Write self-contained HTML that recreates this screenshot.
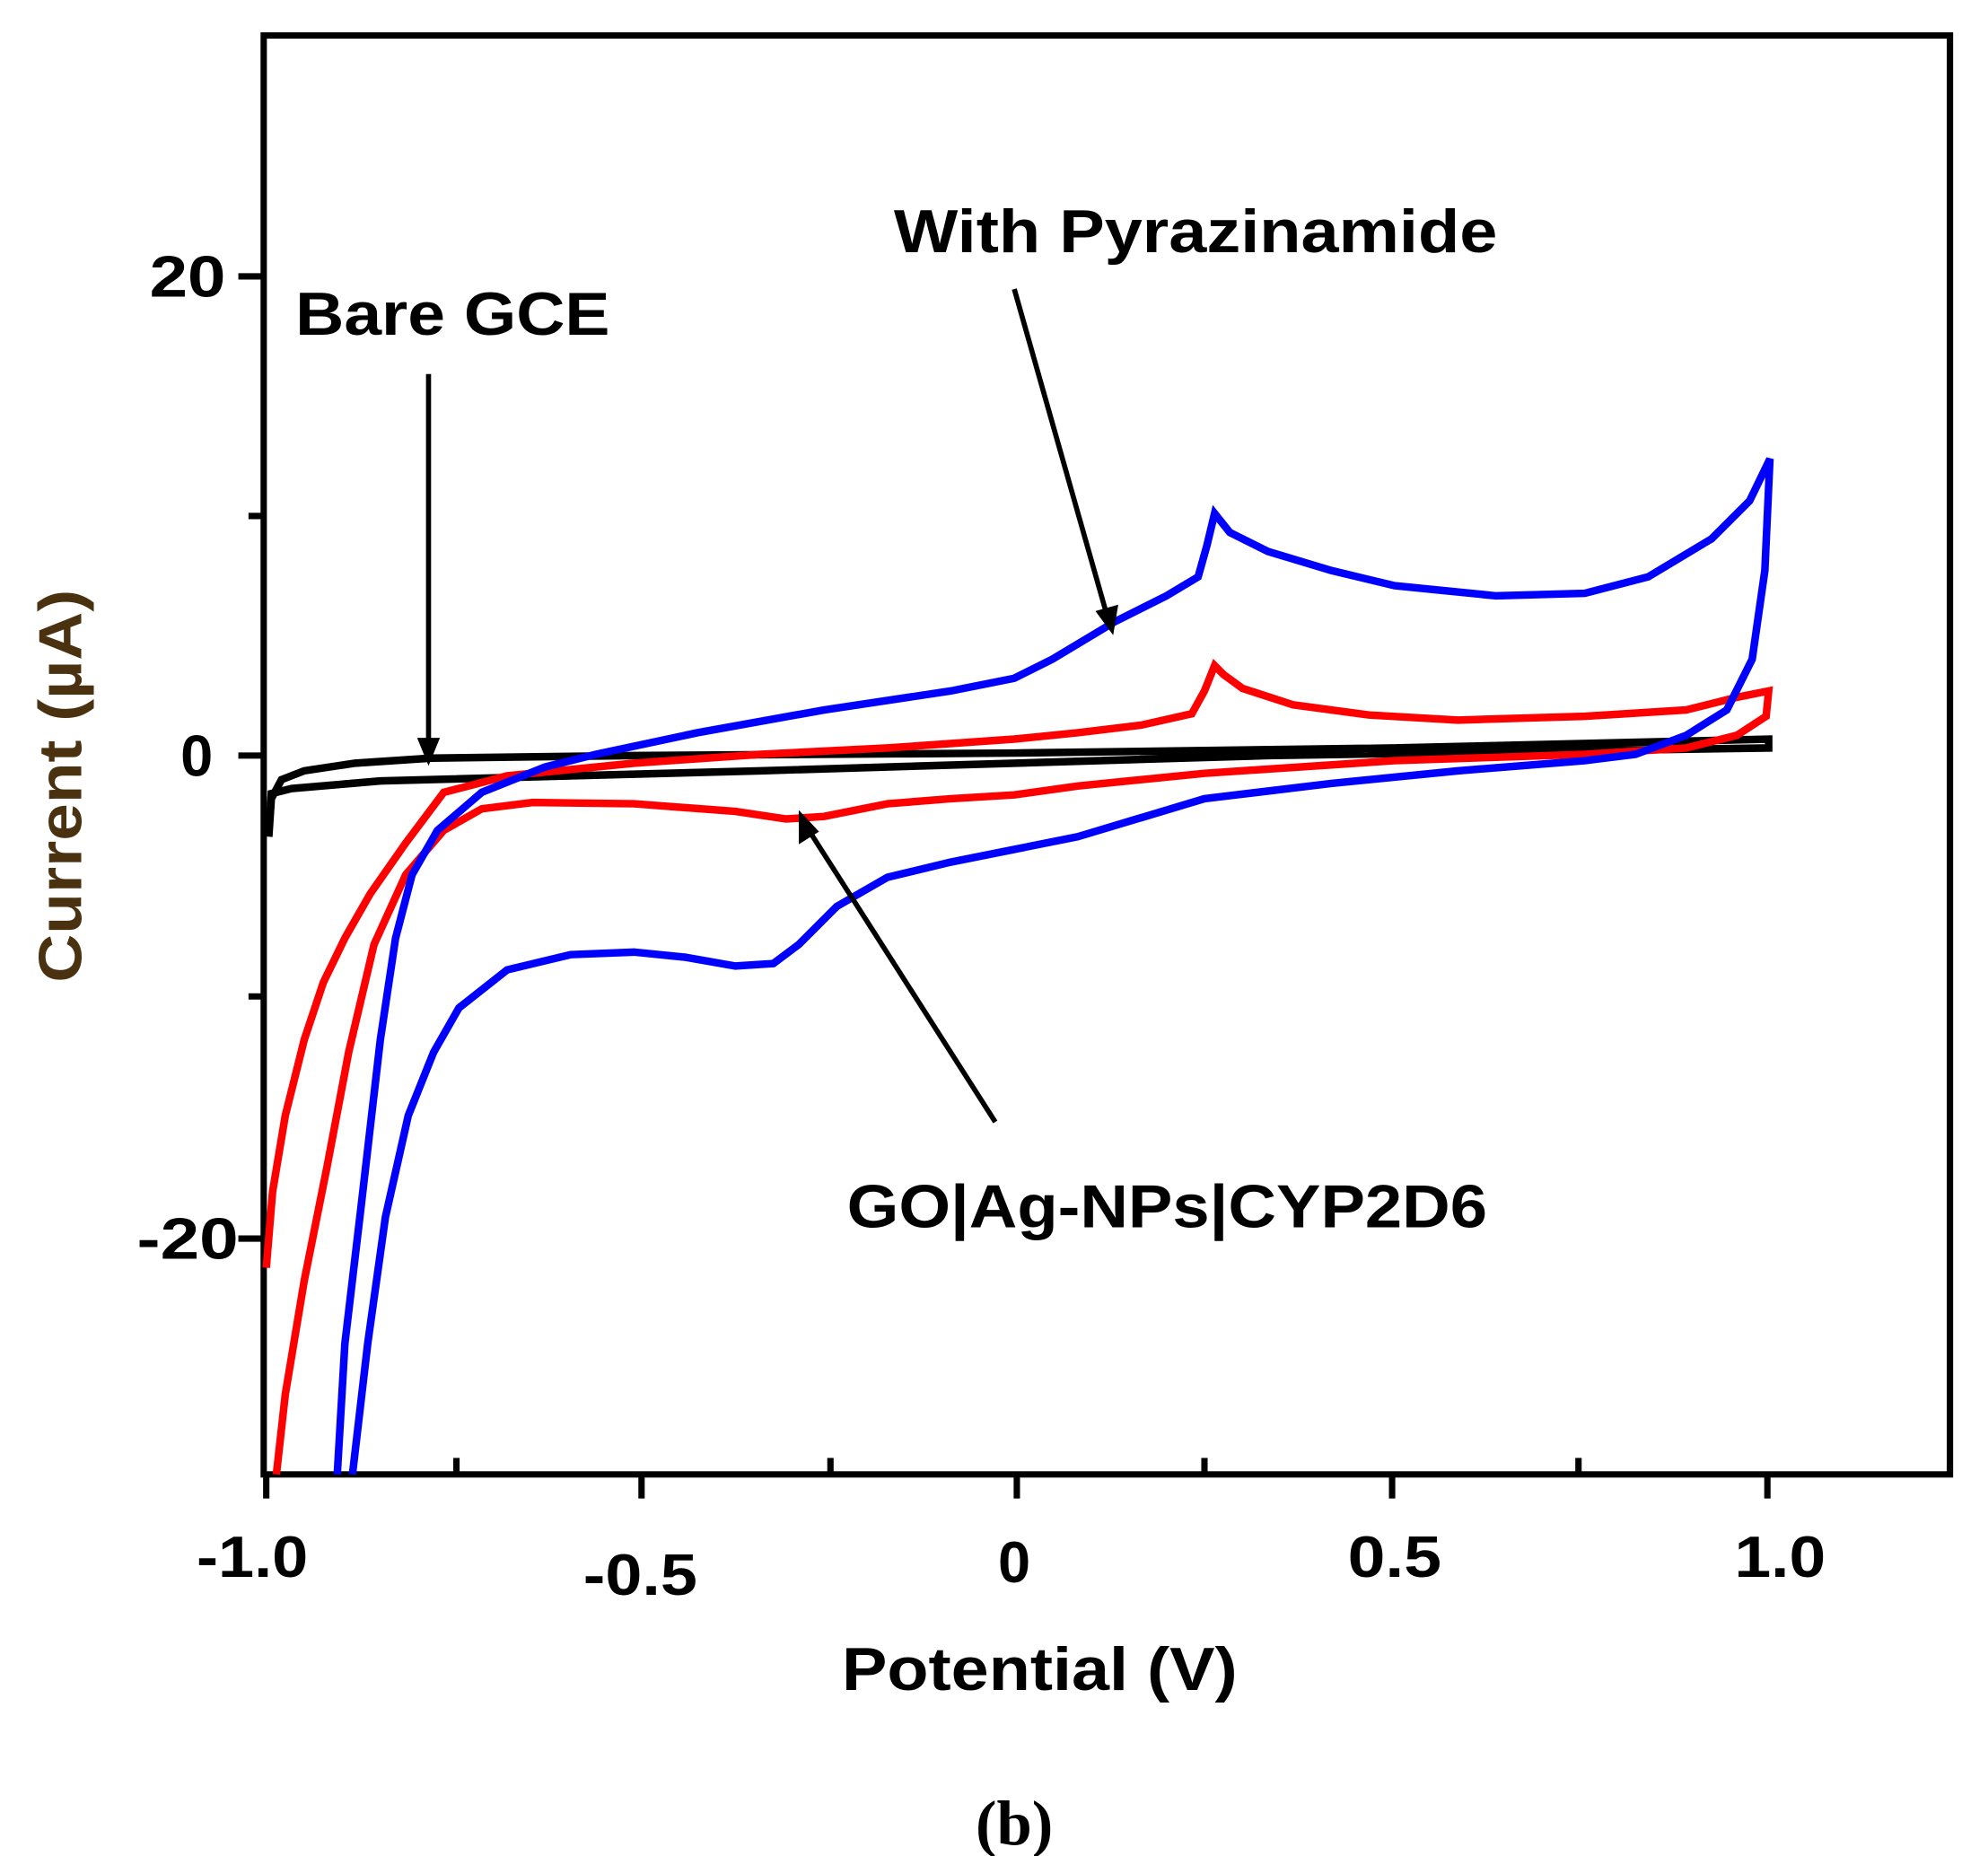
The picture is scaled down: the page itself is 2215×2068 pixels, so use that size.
<!DOCTYPE html>
<html><head><meta charset="utf-8"><style>html,body{margin:0;padding:0;background:#fff}svg{display:block}</style></head>
<body>
<svg width="2215" height="2068" viewBox="0 0 1568 1464" preserveAspectRatio="none" xmlns="http://www.w3.org/2000/svg" font-family="Liberation Sans, sans-serif" font-weight="bold">
<rect width="1568" height="1464" fill="#fff"/>
<rect x="208" y="28" width="1330" height="1135" fill="none" stroke="#000" stroke-width="5"/>
<g stroke="#000" stroke-width="5">
<line x1="188" y1="218" x2="208" y2="218"/><line x1="188" y1="596" x2="208" y2="596"/><line x1="188" y1="977" x2="208" y2="977"/>
<line x1="196" y1="407" x2="208" y2="407"/><line x1="196" y1="786" x2="208" y2="786"/>
<line x1="210" y1="1163" x2="210" y2="1182"/><line x1="506" y1="1163" x2="506" y2="1182"/><line x1="802" y1="1163" x2="802" y2="1182"/><line x1="1098" y1="1163" x2="1098" y2="1182"/><line x1="1394" y1="1163" x2="1394" y2="1182"/>
<line x1="360" y1="1163" x2="360" y2="1150"/><line x1="655" y1="1163" x2="655" y2="1150"/><line x1="950" y1="1163" x2="950" y2="1150"/><line x1="1245" y1="1163" x2="1245" y2="1150"/>
</g>
<g font-size="46" fill="#000">
<text x="178" y="234" text-anchor="end" textLength="60" lengthAdjust="spacingAndGlyphs">20</text>
<text x="168" y="612" text-anchor="end">0</text>
<text x="188" y="993" text-anchor="end" textLength="80" lengthAdjust="spacingAndGlyphs">-20</text>
<text x="155" y="1244" textLength="88" lengthAdjust="spacingAndGlyphs">-1.0</text>
<text x="460" y="1258" textLength="90" lengthAdjust="spacingAndGlyphs">-0.5</text>
<text x="800" y="1248" text-anchor="middle">0</text>
<text x="1063" y="1244" textLength="74" lengthAdjust="spacingAndGlyphs">0.5</text>
<text x="1368" y="1244" textLength="72" lengthAdjust="spacingAndGlyphs">1.0</text>
</g>
<text x="664" y="1333" font-size="48" textLength="312" lengthAdjust="spacingAndGlyphs" fill="#000">Potential (V)</text>
<text transform="translate(64,620) rotate(-90)" font-size="48" text-anchor="middle" textLength="310" lengthAdjust="spacingAndGlyphs" fill="#4a3210">Current (µA)</text>
<text x="800" y="1455" font-size="50" text-anchor="middle" font-family="Liberation Serif, serif" fill="#000">(b)</text>
<polyline fill="none" stroke="#000" stroke-width="6" points="212,660 214,630 222,615 240,608 280,602 340,598 500,596 800,594 1100,590 1395,583 1395,590 1000,596 600,608 300,616 230,622 214,626 212,660"/>
<polyline fill="none" stroke="#f00" stroke-width="6" points="210,1000 215,940 225,880 240,820 255,775 272,740 292,705 320,665 350,625 400,612 500,602 600,595 700,590 800,583 850,578 900,572 940,563 950,545 958,525 965,532 980,543 1020,556 1080,564 1150,568 1250,565 1330,560 1370,550 1395,545 1393,565 1370,580 1330,590 1250,595 1100,600 950,610 850,620 800,627 750,630 700,634 650,644 620,646 580,640 500,634 420,633 380,638 350,655 320,690 295,745 275,830 258,920 240,1010 225,1100 218,1163"/>
<polyline fill="none" stroke="#00f" stroke-width="6" points="266,1163 272,1060 285,950 300,820 312,740 325,690 345,655 380,625 430,605 470,595 550,578 650,560 750,545 800,535 830,520 880,490 920,470 945,455 952,430 958,405 970,420 1000,435 1050,450 1100,462 1180,470 1250,468 1300,455 1350,425 1380,395 1396,362 1392,450 1382,520 1362,560 1330,580 1290,595 1250,600 1150,608 1050,618 950,630 850,660 800,670 750,680 700,692 660,715 630,745 610,760 580,762 540,755 500,751 450,753 400,765 362,795 342,830 322,880 304,960 290,1060 278,1163"/>
<g stroke="#000" stroke-width="4" fill="#000">
<line x1="338" y1="295" x2="338" y2="590"/>
<polygon points="329,582 347,582 338,604" stroke="none"/>
<line x1="800" y1="228" x2="873" y2="485"/>
<polygon points="864,482 882,477 878,501" stroke="none"/>
<line x1="785" y1="885" x2="638" y2="655"/>
<polygon points="630,666 646,656 630,639" stroke="none"/>
</g>
<g font-size="48" fill="#000">
<text x="705" y="199" textLength="476" lengthAdjust="spacingAndGlyphs">With Pyrazinamide</text>
<text x="233" y="264" textLength="248" lengthAdjust="spacingAndGlyphs">Bare GCE</text>
<text x="668" y="968" textLength="505" lengthAdjust="spacingAndGlyphs">GO|Ag-NPs|CYP2D6</text>
</g>
</svg>
</body></html>
